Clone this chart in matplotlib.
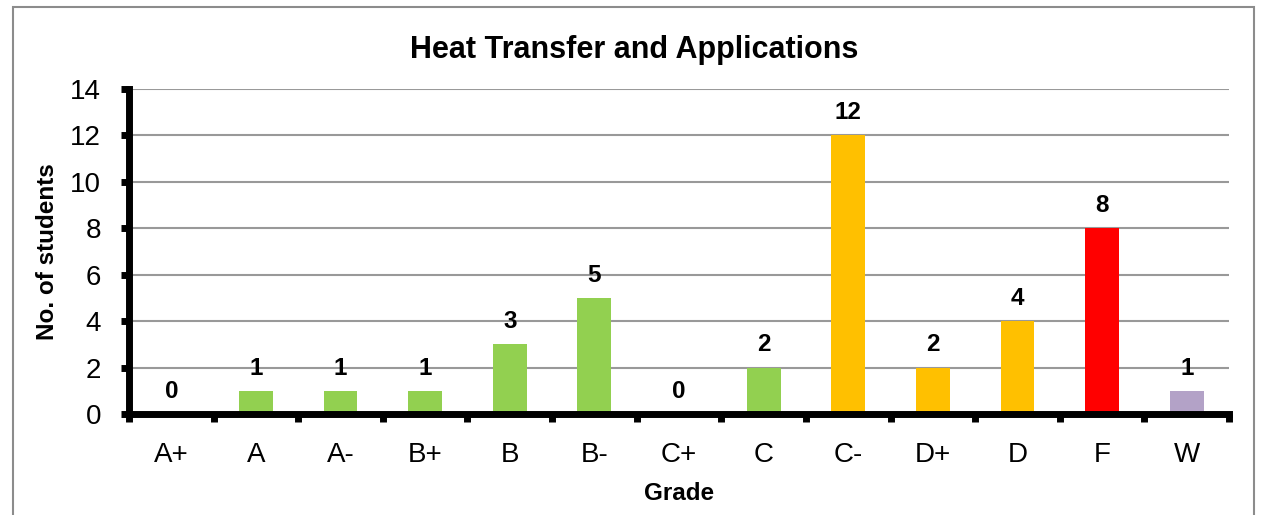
import matplotlib
matplotlib.use("Agg")
import matplotlib.pyplot as plt
from matplotlib.patches import Rectangle
import numpy as np

plt.rcParams['font.family'] = ['Liberation Sans', 'DejaVu Sans']

# data
grades = ["A+", "A", "A-", "B+", "B", "B-", "C+", "C", "C-", "D+", "D", "F", "W"]
students = [0, 1, 1, 1, 3, 5, 0, 2, 12, 2, 4, 8, 1]
bar_colors = ["#92D050"] * 8 + ["#FFC000"] * 3 + ["#FF0000", "#B3A2C7"]

fig = plt.figure(figsize=(12.62, 5.15), dpi=100)
ax = fig.add_axes([129 / 1262, 1 - 414 / 515, 1100 / 1262, 325 / 515])

# outer chart border
fig.patches.append(Rectangle((13 / 1262, -0.05), 1241 / 1262, 1.05 - 7 / 515,
                             transform=fig.transFigure, fill=False,
                             edgecolor="#8c8c8c", linewidth=1.5))

x = np.arange(len(grades))
ax.bar(x, students, width=0.4, color=bar_colors, zorder=3)

for xi, v in zip(x, students):
    ax.annotate(str(v), (xi, v), xytext=(0, 8), textcoords="offset points",
                ha="center", va="bottom", fontsize=17.5, fontweight="bold")

ax.set_xlim(-0.5, len(grades) - 0.5)
ax.set_ylim(0, 14)
ax.set_yticks(range(0, 15, 2))
ax.set_xticks(x)
ax.set_xticklabels(grades)
ax.set_xticks(np.arange(-0.5, len(grades), 1), minor=True)
ax.tick_params(axis="x", which="major", length=0, pad=20, labelsize=20)
ax.tick_params(axis="x", which="minor", length=6, width=5, direction="out")
ax.tick_params(axis="y", length=6, width=5, direction="out", labelsize=20, pad=14)

ax.grid(axis="y", color="#999999", linewidth=1.5, zorder=0)
for s in ["top", "right"]:
    ax.spines[s].set_visible(False)
ax.spines["left"].set_linewidth(5)
ax.spines["bottom"].set_linewidth(5)
ax.spines["bottom"].set_zorder(4)

fig.text(634 / 1262, 1 - 50 / 515, "Heat Transfer and Applications", fontsize=22,
         fontweight="bold", ha="center", va="center")
ax.set_xlabel("Grade", fontsize=17.5, fontweight="bold", labelpad=10)
ax.set_ylabel("No. of students", fontsize=17.5, fontweight="bold", labelpad=8)

fig.savefig("out.png", dpi=100)
